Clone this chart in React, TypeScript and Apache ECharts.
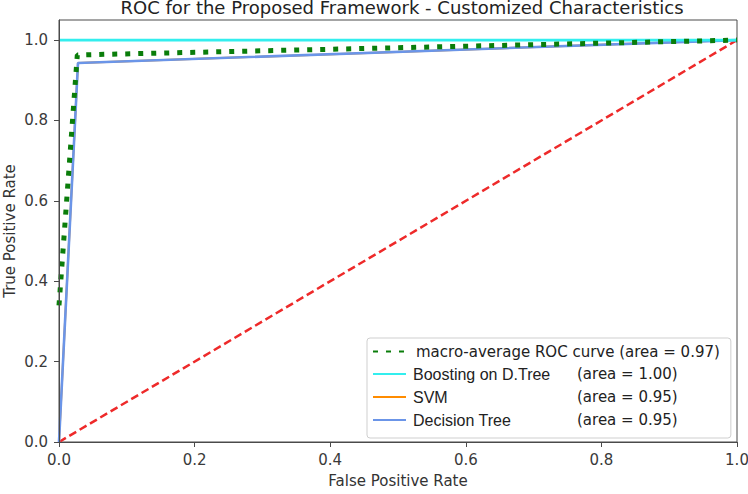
import React, { useEffect, useRef } from "react";
import * as echarts from "echarts";

const titleText = "ROC for the Proposed Framework - Customized Characteristics";
const xTicks = [0, 0.2, 0.4, 0.6, 0.8, 1.0];
const yTicks = [0, 0.2, 0.4, 0.6, 0.8, 1.0];

const macroFpr = [0, 0.027, 1];
const macroTpr = [0.34, 0.963, 1];
const boostFpr = [0, 1];
const boostTpr = [1, 1];
const svmFpr = [0, 0.028, 1];
const svmTpr = [0, 0.943, 1];
const dtFpr = [0, 0.028, 1];
const dtTpr = [0, 0.943, 1];
const diagFpr = [0, 1];
const diagTpr = [0, 1];

const seriesNames = [
  "macro-average ROC curve (area = 0.97)",
  "Boosting on D.Tree",
  "SVM",
  "Decision Tree",
];
const areaLabels = ["", "(area = 1.00)", "(area = 0.95)", "(area = 0.95)"];

const zip = (a: number[], b: number[]) => a.map((v, i) => [v, b[i]]);

export default function App() {
  const ref = useRef<HTMLDivElement>(null);
  useEffect(() => {
    if (!ref.current) return;
    document.body.style.margin = "0";
    const chart = echarts.init(ref.current, null, { renderer: "svg" });
    const font = "DejaVu Sans";
    const axisColor = "#4a4a4a";
    const labelColor = "#3a3a3a";
    chart.setOption({
      animation: false,
      backgroundColor: "#fff",
      title: {
        text: titleText,
        left: 397,
        textAlign: "center",
        top: -7,
        textStyle: { fontFamily: font, fontSize: 18, fontWeight: "normal", color: "#222" },
      },
      grid: {
        left: 59,
        right: 11,
        top: 20,
        bottom: 52,
        show: true,
        borderColor: axisColor,
        borderWidth: 1,
        backgroundColor: "#fff",
        outerBoundsMode: "none",
        containLabel: false,
      },
      legend: {
        orient: "vertical",
        left: 367,
        top: 338,
        padding: [6, 11, 10, 5],
        itemGap: 7,
        itemWidth: 33,
        itemHeight: 14,
        backgroundColor: "#fff",
        borderColor: "#cfcfcf",
        borderWidth: 1,
        borderRadius: 3,
        itemStyle: { opacity: 0 },
        data: seriesNames,
        formatter: (name: string) => {
          const i = seriesNames.indexOf(name);
          if (i <= 0) return "{m|" + name + "}";
          return "{a|" + name + "}{b|" + areaLabels[i] + "}";
        },
        textStyle: {
          fontSize: 15,
          color: "#222",
          rich: {
            m: { fontFamily: font, fontSize: 15, lineHeight: 17, color: "#222", padding: [0, 0, 0, 5] },
            a: { fontFamily: "Liberation Sans", fontSize: 16, lineHeight: 17, color: "#222", width: 164, padding: [0, 0, 0, 2] },
            b: { fontFamily: font, fontSize: 15, lineHeight: 17, color: "#222" },
          },
        },
      },
      xAxis: {
        type: "value",
        min: 0,
        max: 1,
        interval: 0.2,
        z: 10,
        name: "False Positive Rate",
        nameLocation: "middle",
        nameGap: 31,
        nameMoveOverlap: false,
        nameTextStyle: { fontFamily: font, fontSize: 15, color: "#333" },
        axisLine: { show: true, onZero: false, lineStyle: { color: axisColor } },
        axisTick: { show: true, length: 5, customValues: xTicks, lineStyle: { color: axisColor } },
        axisLabel: {
          fontFamily: font,
          fontSize: 15,
          color: labelColor,
          margin: 10,
          hideOverlap: false,
          customValues: xTicks,
          formatter: (v: number) => v.toFixed(1),
        },
        splitLine: { show: false },
      },
      yAxis: {
        type: "value",
        min: 0,
        max: 1.05,
        z: 10,
        name: "True Positive Rate",
        nameLocation: "middle",
        nameGap: 42,
        nameMoveOverlap: false,
        nameTextStyle: { fontFamily: font, fontSize: 15, color: "#333" },
        axisLine: { show: true, onZero: false, lineStyle: { color: axisColor } },
        axisTick: { show: true, length: 5, customValues: yTicks, lineStyle: { color: axisColor } },
        axisLabel: {
          fontFamily: font,
          fontSize: 15,
          color: labelColor,
          margin: 11,
          customValues: yTicks,
          formatter: (v: number) => v.toFixed(1),
        },
        splitLine: { show: false },
      },
      series: [
        {
          name: "Diagonal",
          type: "line",
          data: zip(diagFpr, diagTpr),
          symbol: "none",
          lineStyle: { color: "#ee2a2a", width: 2.5, type: [8, 4] },
          z: 2,
        },
        {
          name: seriesNames[2],
          type: "line",
          data: zip(svmFpr, svmTpr),
          symbol: "none",
          itemStyle: { color: "#ff8c00" },
          lineStyle: { color: "#ff8c00", width: 2 },
          z: 2,
        },
        {
          name: seriesNames[3],
          type: "line",
          data: zip(dtFpr, dtTpr),
          symbol: "none",
          itemStyle: { color: "#6b95e8" },
          lineStyle: { color: "#6b95e8", width: 2.6 },
          z: 3,
        },
        {
          name: seriesNames[1],
          type: "line",
          data: zip(boostFpr, boostTpr),
          symbol: "none",
          itemStyle: { color: "#33eeee" },
          lineStyle: { color: "#33eeee", width: 2.6 },
          z: 4,
        },
        {
          name: seriesNames[0],
          type: "line",
          data: zip(macroFpr, macroTpr),
          symbol: "none",
          itemStyle: { color: "#0a7d0a" },
          lineStyle: { color: "#0a7d0a", width: 5, type: [5, 8], cap: "butt" },
          z: 5,
        },
      ],
    });
    return () => chart.dispose();
  }, []);
  return <div ref={ref} style={{ width: 748, height: 494 }} />;
}
